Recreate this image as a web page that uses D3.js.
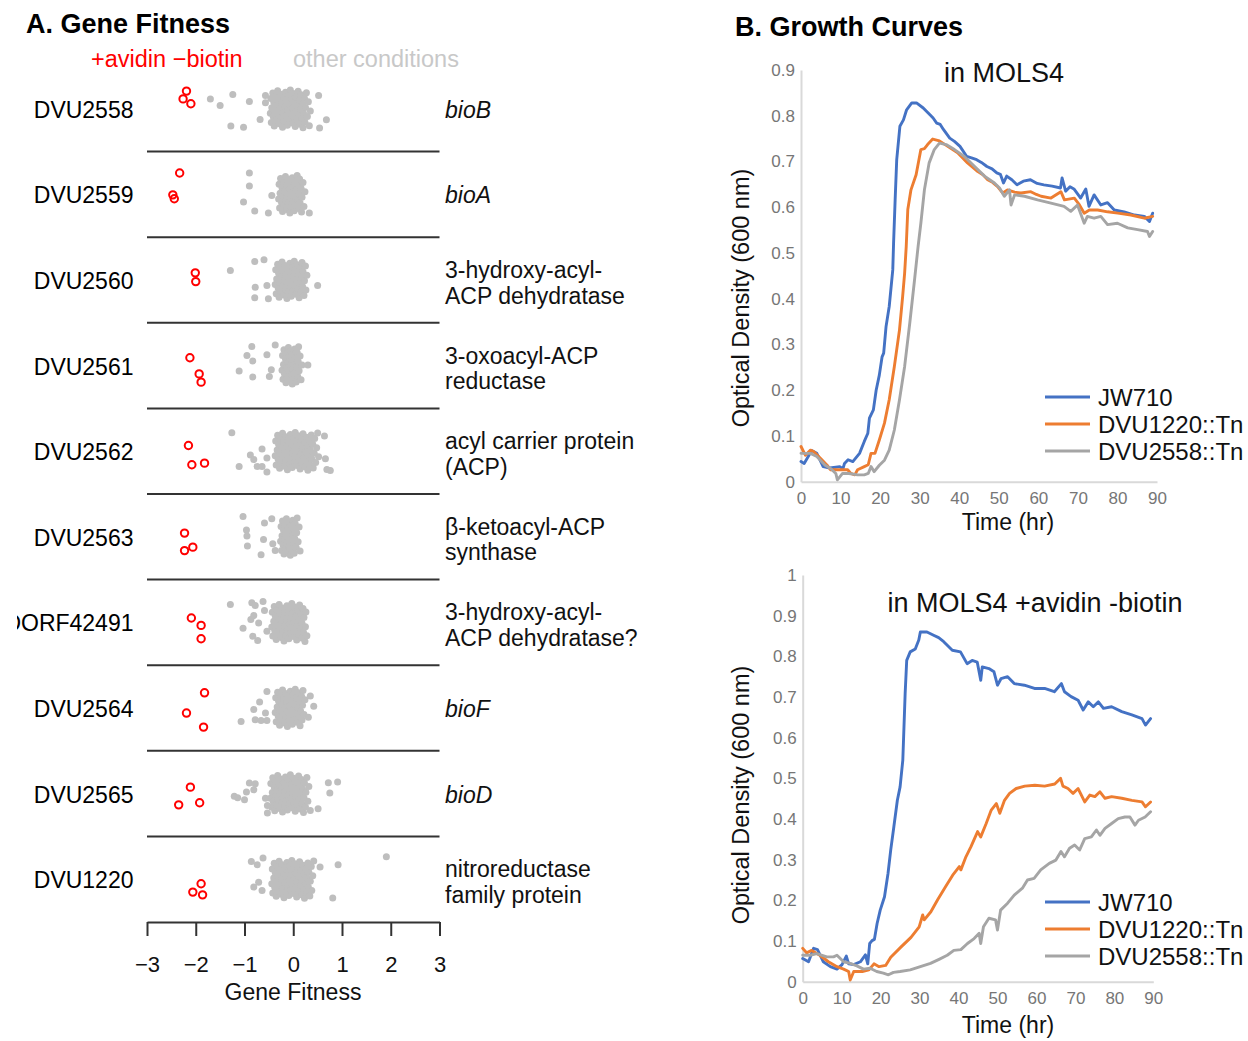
<!DOCTYPE html>
<html>
<head>
<meta charset="utf-8">
<script src="https://cdn.jsdelivr.net/npm/d3@7"></script>
<style>
  body { margin: 0; background: #fff; }
  svg  { display: block; font-family: "Liberation Sans", Arial, Helvetica, sans-serif; }
</style>
</head>
<body>
<svg id="chart" width="1248" height="1041"></svg>
<script>
// ── Panel A data: gene fitness strip chart ───────────────────────────────────
const genes = ["DVU2558", "DVU2559", "DVU2560", "DVU2561", "DVU2562",
               "DVU2563", "DORF42491", "DVU2564", "DVU2565", "DVU1220"];

const geneDesc = [
  ["bioB"], ["bioA"],
  ["3-hydroxy-acyl-", "ACP dehydratase"],
  ["3-oxoacyl-ACP", "reductase"],
  ["acyl carrier protein", "(ACP)"],
  ["β-ketoacyl-ACP", "synthase"],
  ["3-hydroxy-acyl-", "ACP dehydratase?"],
  ["bioF"], ["bioD"],
  ["nitroreductase", "family protein"],
];

const fitTicks = [-3, -2, -1, 0, 1, 2, 3];

// fitness in "+avidin −biotin" experiments: [fitness, jitter]
const avidinFit = [
  [[-2.19, -0.77], [-2.26, -0.43], [-2.10, -0.22]],
  [[-2.33, -0.93], [-2.47, 0.02], [-2.44, 0.19]],
  [[-2.01, -0.31], [-2.00, 0.07]],
  [[-2.12, -0.34], [-1.93, 0.36], [-1.89, 0.72]],
  [[-2.15, -0.25], [-2.08, 0.59], [-1.82, 0.52]],
  [[-2.23, -0.16], [-2.23, 0.60], [-2.06, 0.45]],
  [[-2.09, -0.19], [-1.89, 0.13], [-1.89, 0.71]],
  [[-1.82, -0.66], [-2.19, 0.22], [-1.84, 0.83]],
  [[-2.11, -0.28], [-2.35, 0.49], [-1.92, 0.40]],
  [[-1.89, 0.20], [-2.06, 0.56], [-1.86, 0.68]],
];

// other conditions, values away from the main cloud: [fitness, jitter]
const otherOutliers = [
  [[-1.70,-0.43],[-1.50,-0.14],[-1.24,-0.62],[-0.90,-0.32],[-1.28,0.75],[-1.02,0.80],[-0.68,0.47],[-0.57,-0.26],[-0.57,-0.58],[0.52,-0.58],[0.68,0.48],[0.54,0.84]],
  [[-0.90,-0.93],[-0.90,-0.36],[-1.02,0.33],[-0.79,0.72],[-0.44,0.05],[-0.51,0.81],[0.33,0.81]],
  [[-1.29,-0.41],[-0.79,-0.80],[-0.60,-0.88],[-0.78,0.31],[-0.79,0.77],[-0.54,0.24],[-0.51,0.82],[0.50,0.24]],
  [[-0.85,-0.83],[-0.95,-0.44],[-0.83,-0.20],[-1.11,0.24],[-0.83,0.50],[-0.54,-0.47],[-0.45,0.18],[-0.49,0.47],[-0.37,-0.90],[0.30,-0.03]],
  [[0.64,-0.66],[0.66,0.33],[0.69,0.80],[0.76,0.84],[-1.26,-0.80],[-0.88,0.16],[-0.81,0.36],[-1.11,0.66],[-0.74,0.66],[-0.64,0.66],[-0.54,0.30],[-0.64,-0.10],[-0.54,0.90]],
  [[-1.03,-0.88],[-0.59,-0.60],[-0.96,-0.30],[-0.95,-0.03],[-0.61,0.12],[-0.94,0.40],[-0.42,0.30],[-0.66,0.78],[-0.37,0.60],[-0.44,-0.78]],
  [[-1.29,-0.78],[-0.85,-0.85],[-0.78,-0.73],[-0.62,-0.91],[-0.87,-0.13],[-0.81,-0.30],[-0.71,0.03],[-1.03,0.25],[-0.54,0.38],[-0.83,0.60],[-0.73,0.79],[-0.59,-0.52]],
  [[-0.54,-0.72],[-0.69,-0.26],[-0.81,0.06],[-0.57,0.22],[-1.07,0.59],[-0.78,0.51],[-0.66,0.54],[-0.54,0.54],[0.35,-0.52],[0.42,-0.08],[0.31,0.40]],
  [[0.72,-0.47],[0.91,-0.50],[0.75,-0.03],[0.51,0.66],[-0.90,-0.46],[-0.78,-0.43],[-0.96,-0.07],[-0.81,-0.17],[-1.21,0.11],[-1.14,0.18],[-1.00,0.27],[-0.57,0.20],[-0.53,0.52],[-0.53,0.84]],
  [[-0.86,-0.77],[-0.74,-0.63],[-0.62,-0.92],[-0.81,0.34],[-0.71,0.13],[-0.64,0.49],[0.55,-0.53],[0.92,-0.63],[0.81,0.82],[1.91,-0.98]],
];

// other conditions, the dense cloud near zero (fitness only, jittered when drawn)
const otherCore = [
  [-0.47,-0.46,-0.45,-0.44,-0.42,-0.41,-0.40,-0.39,-0.37,-0.36,-0.35,-0.34,-0.32,-0.31,-0.30,-0.29,-0.27,-0.26,-0.25,-0.24,-0.22,-0.21,-0.20,-0.19,-0.17,-0.16,-0.15,-0.14,-0.12,-0.11,-0.10,-0.09,-0.07,-0.06,-0.05,-0.04,-0.02,-0.01,0.00,0.01,0.03,0.04,0.05,0.06,0.08,0.09,0.10,0.11,0.13,0.14,0.15,0.16,0.18,0.19,0.20,0.21,0.23,0.24,0.25,0.27,0.29,0.31,0.33,0.35],
  [-0.30,-0.29,-0.28,-0.27,-0.26,-0.24,-0.23,-0.22,-0.21,-0.20,-0.19,-0.18,-0.16,-0.15,-0.14,-0.13,-0.12,-0.11,-0.10,-0.08,-0.07,-0.06,-0.05,-0.04,-0.03,-0.02,0.00,0.01,0.02,0.03,0.04,0.05,0.06,0.08,0.09,0.10,0.11,0.12,0.13,0.14,0.16,0.17,0.18,0.20,0.22,0.24],
  [-0.37,-0.36,-0.35,-0.34,-0.32,-0.31,-0.30,-0.29,-0.28,-0.27,-0.25,-0.24,-0.23,-0.22,-0.21,-0.19,-0.18,-0.17,-0.16,-0.15,-0.13,-0.12,-0.11,-0.10,-0.09,-0.07,-0.06,-0.05,-0.04,-0.03,-0.01,0.00,0.01,0.02,0.03,0.05,0.06,0.07,0.08,0.09,0.11,0.12,0.13,0.14,0.15,0.17,0.18,0.19,0.20,0.22,0.23,0.25,0.26,0.28],
  [-0.23,-0.22,-0.21,-0.20,-0.19,-0.18,-0.16,-0.15,-0.14,-0.13,-0.12,-0.11,-0.10,-0.09,-0.08,-0.07,-0.06,-0.05,-0.04,-0.03,-0.02,-0.01,0.00,0.01,0.02,0.03,0.04,0.05,0.06,0.07,0.08,0.09,0.10,0.11,0.12,0.14,0.16,0.18],
  [-0.37,-0.36,-0.35,-0.33,-0.32,-0.31,-0.30,-0.28,-0.27,-0.26,-0.25,-0.23,-0.22,-0.21,-0.20,-0.18,-0.17,-0.16,-0.15,-0.13,-0.12,-0.11,-0.10,-0.08,-0.07,-0.06,-0.05,-0.03,-0.02,-0.01,0.00,0.02,0.03,0.04,0.05,0.07,0.08,0.09,0.10,0.12,0.13,0.14,0.15,0.17,0.18,0.19,0.20,0.22,0.23,0.24,0.25,0.27,0.28,0.29,0.30,0.32,0.33,0.34,0.35,0.37,0.38,0.40,0.41,0.43,0.44,0.46,0.48,0.50,0.52],
  [-0.26,-0.25,-0.24,-0.23,-0.22,-0.21,-0.20,-0.19,-0.18,-0.17,-0.16,-0.15,-0.14,-0.13,-0.12,-0.11,-0.10,-0.09,-0.08,-0.07,-0.06,-0.05,-0.04,-0.03,-0.02,-0.01,0.00,0.01,0.02,0.03,0.04,0.06,0.07,0.08,0.10,0.12,0.14],
  [-0.44,-0.43,-0.42,-0.40,-0.39,-0.38,-0.37,-0.35,-0.34,-0.33,-0.32,-0.30,-0.29,-0.28,-0.27,-0.25,-0.24,-0.23,-0.22,-0.20,-0.19,-0.18,-0.17,-0.15,-0.14,-0.13,-0.12,-0.10,-0.09,-0.08,-0.07,-0.05,-0.04,-0.03,-0.02,0.00,0.01,0.02,0.03,0.05,0.06,0.07,0.08,0.10,0.11,0.12,0.13,0.15,0.16,0.17,0.18,0.20,0.21,0.22,0.24,0.25,0.26,0.28],
  [-0.37,-0.36,-0.35,-0.33,-0.32,-0.31,-0.30,-0.28,-0.27,-0.26,-0.25,-0.23,-0.22,-0.21,-0.20,-0.18,-0.17,-0.16,-0.15,-0.13,-0.12,-0.11,-0.10,-0.08,-0.07,-0.06,-0.05,-0.03,-0.02,-0.01,0.00,0.02,0.03,0.04,0.05,0.07,0.08,0.09,0.10,0.12,0.13,0.14,0.15,0.17,0.18,0.19,0.20,0.22,0.24],
  [-0.47,-0.46,-0.44,-0.43,-0.42,-0.41,-0.39,-0.38,-0.37,-0.36,-0.34,-0.33,-0.32,-0.31,-0.29,-0.28,-0.27,-0.26,-0.24,-0.23,-0.22,-0.21,-0.19,-0.18,-0.17,-0.16,-0.14,-0.13,-0.12,-0.11,-0.09,-0.08,-0.07,-0.06,-0.04,-0.03,-0.02,-0.01,0.01,0.02,0.03,0.04,0.06,0.07,0.08,0.09,0.11,0.12,0.13,0.14,0.16,0.17,0.18,0.19,0.21,0.22,0.23,0.25,0.26,0.28,0.30,0.32,0.35],
  [-0.44,-0.43,-0.42,-0.40,-0.39,-0.38,-0.37,-0.35,-0.34,-0.33,-0.32,-0.30,-0.29,-0.28,-0.27,-0.25,-0.24,-0.23,-0.22,-0.20,-0.19,-0.18,-0.17,-0.15,-0.14,-0.13,-0.12,-0.10,-0.09,-0.08,-0.07,-0.05,-0.04,-0.03,-0.02,0.00,0.01,0.02,0.03,0.05,0.06,0.07,0.08,0.10,0.11,0.12,0.13,0.15,0.16,0.17,0.18,0.20,0.21,0.22,0.23,0.25,0.26,0.27,0.28,0.30,0.31,0.32,0.34,0.35,0.37,0.38,0.40,0.42],
];

// ── Panel B data: growth curves, [time (hr), OD600] ──────────────────────────
const strains = ["JW710", "DVU1220::Tn", "DVU2558::Tn"];
const strainColors = ["#4472c4", "#ed7d31", "#a5a5a5"];
const timeTicks = [0, 10, 20, 30, 40, 50, 60, 70, 80, 90];
const odTicksTop = [0, 0.1, 0.2, 0.3, 0.4, 0.5, 0.6, 0.7, 0.8, 0.9];
const odTicksBottom = [0, 0.1, 0.2, 0.3, 0.4, 0.5, 0.6, 0.7, 0.8, 0.9, 1];

const mols4JW710 = [[0,0.044],[0.8,0.040],[2.7,0.068],[4,0.062],[5.6,0.033],[7.3,0.030],[9.8,0.033],[10.6,0.028],[11,0.040],[11.9,0.048],[13.1,0.044],[14.8,0.062],[16,0.088],[16.9,0.106],[17.3,0.139],[18.3,0.157],[19,0.20],[19.8,0.233],[20.5,0.273],[20.9,0.281],[21.5,0.339],[22.3,0.383],[23.2,0.463],[23.4,0.52],[23.8,0.616],[24.2,0.704],[25,0.777],[25.9,0.791],[26.7,0.813],[28,0.828],[29.2,0.828],[30.9,0.817],[32.6,0.802],[33.4,0.795],[34.3,0.784],[35.2,0.781],[36,0.770],[37.6,0.751],[38.8,0.744],[40.2,0.733],[41.9,0.711],[43.1,0.708],[44.4,0.704],[45.6,0.698],[47,0.689],[48.3,0.684],[49.5,0.675],[50.4,0.672],[51.2,0.653],[52,0.668],[53.3,0.660],[54.6,0.649],[56.2,0.657],[58,0.66],[59.7,0.652],[61.4,0.649],[63.5,0.646],[65.6,0.642],[66,0.664],[66.9,0.635],[68,0.645],[69,0.64],[70.7,0.62],[72,0.64],[72.8,0.602],[74.1,0.627],[75.8,0.605],[77.5,0.61],[79.2,0.594],[81.7,0.59],[84.3,0.583],[86.8,0.58],[88.1,0.569],[88.9,0.587]];
const mols4DVU1220 = [[0,0.077],[1.1,0.058],[2.4,0.069],[3.2,0.066],[4.9,0.051],[6.6,0.036],[7.5,0.026],[10,0.026],[11.8,0.026],[12.6,0.018],[13.6,0.015],[14.3,0.026],[16,0.033],[17,0.037],[17.7,0.062],[18.7,0.062],[19.8,0.091],[21.1,0.128],[22.3,0.179],[23.6,0.252],[24.9,0.332],[25.7,0.405],[26.2,0.456],[26.6,0.514],[27,0.595],[27.8,0.638],[29.1,0.671],[30.3,0.726],[31.2,0.728],[32,0.737],[33.3,0.749],[35,0.745],[37.1,0.733],[39.6,0.719],[42.1,0.697],[44.7,0.678],[46,0.671],[47.2,0.66],[48.5,0.654],[49.7,0.645],[51,0.631],[52.2,0.638],[54,0.633],[55.6,0.631],[58.1,0.634],[59.5,0.628],[60.7,0.624],[63.2,0.62],[65.7,0.634],[66.6,0.616],[69.1,0.62],[70.4,0.605],[71.6,0.587],[72.9,0.594],[75,0.594],[77.5,0.59],[80.1,0.587],[83.4,0.583],[86.8,0.576],[88.9,0.58]];
const mols4DVU2558 = [[0,0.062],[2.4,0.062],[4,0.055],[6.1,0.036],[7.5,0.029],[8.8,0.018],[9.2,0.004],[10.5,0.018],[12.1,0.018],[14.3,0.015],[16,0.015],[17,0.018],[17.7,0.033],[18.5,0.022],[19.8,0.036],[21.1,0.047],[22.3,0.069],[23.6,0.113],[24.9,0.179],[26.2,0.252],[27.5,0.347],[28.7,0.441],[29.6,0.514],[30.3,0.565],[31.2,0.638],[32.4,0.697],[33.7,0.726],[35,0.74],[36.7,0.737],[38.8,0.726],[41.3,0.711],[43.9,0.689],[46.4,0.668],[48.9,0.653],[50.2,0.642],[51.4,0.624],[52.7,0.638],[53.1,0.605],[54,0.627],[56.5,0.624],[59.8,0.616],[63.2,0.609],[66.5,0.602],[68.2,0.591],[69.9,0.605],[71.6,0.565],[72.4,0.58],[74.1,0.576],[75.8,0.58],[77.5,0.562],[80,0.565],[82.6,0.555],[85.1,0.551],[87.6,0.547],[88.1,0.536],[88.9,0.547]];

const avidinJW710 = [[0,0.057],[1.5,0.049],[2.8,0.082],[3.8,0.079],[5.3,0.049],[7.1,0.037],[8.8,0.031],[10.1,0.042],[11.2,0.063],[11.8,0.044],[13.1,0.042],[14.8,0.049],[16.1,0.066],[16.7,0.044],[17.2,0.094],[17.8,0.101],[18.4,0.104],[19.1,0.143],[19.9,0.176],[21,0.209],[21.9,0.266],[22.6,0.324],[23.4,0.381],[24.3,0.446],[25,0.479],[25.7,0.545],[26.3,0.709],[26.7,0.79],[27.6,0.811],[28.9,0.818],[29.8,0.84],[30.2,0.86],[31.9,0.86],[33.6,0.852],[34.9,0.846],[36.2,0.836],[38.4,0.815],[40.5,0.811],[42.2,0.782],[43.5,0.79],[44.8,0.786],[45.7,0.741],[46.1,0.774],[47.8,0.77],[49.1,0.762],[50,0.729],[50.9,0.745],[52.6,0.75],[54.3,0.733],[56.9,0.729],[59.5,0.721],[62.1,0.721],[64.6,0.713],[66.4,0.733],[67.2,0.713],[68.9,0.701],[70.7,0.692],[72,0.668],[73.3,0.688],[74.6,0.676],[75.9,0.688],[77.2,0.672],[79.3,0.676],[81.9,0.664],[84.5,0.656],[87.1,0.647],[88,0.631],[89.3,0.647]];
const avidinDVU1220 = [[0,0.082],[1,0.071],[2.3,0.077],[4.4,0.065],[6.6,0.049],[8.8,0.037],[10.5,0.031],[11.8,0.025],[12.2,0.004],[13.1,0.025],[15.3,0.025],[17,0.029],[18.3,0.044],[19.6,0.037],[21.3,0.04],[22.6,0.06],[25.2,0.085],[27.8,0.109],[29.9,0.135],[30.8,0.164],[31.2,0.152],[32.9,0.172],[34.6,0.201],[36.7,0.234],[38.5,0.262],[40.2,0.283],[40.6,0.275],[41.9,0.307],[43.2,0.332],[44.9,0.369],[45.7,0.356],[47.1,0.389],[48.4,0.422],[49.7,0.438],[50.6,0.414],[51.8,0.446],[53.1,0.463],[54.8,0.475],[57,0.481],[59.6,0.483],[62.1,0.481],[64.7,0.486],[66.2,0.50],[66.8,0.481],[68.1,0.475],[69.4,0.463],[70.7,0.475],[72.4,0.442],[73.7,0.459],[75,0.455],[76.3,0.467],[77.6,0.451],[79.3,0.455],[81.9,0.451],[84.5,0.446],[87.1,0.442],[88,0.43],[89.3,0.442]];
const avidinDVU2558 = [[0,0.065],[1.9,0.065],[3.6,0.069],[6.2,0.061],[7.9,0.061],[8.8,0.065],[10.5,0.049],[12.2,0.045],[13.9,0.039],[15.6,0.031],[17.3,0.033],[19,0.025],[20.7,0.021],[22,0.017],[23.3,0.023],[25,0.025],[27.6,0.029],[30.2,0.037],[32.8,0.045],[35,0.055],[37.1,0.065],[38.8,0.077],[40.6,0.079],[42.3,0.094],[44,0.106],[45.3,0.119],[45.7,0.094],[46.4,0.135],[47.8,0.156],[49.5,0.152],[50,0.127],[50.8,0.176],[52.6,0.193],[54.3,0.213],[56.4,0.23],[57.7,0.25],[59.4,0.254],[61.1,0.275],[63.3,0.291],[65,0.299],[66.3,0.32],[67.2,0.307],[68.5,0.328],[69.8,0.336],[71.1,0.324],[72.4,0.352],[74.1,0.356],[75.4,0.373],[76.3,0.36],[77.6,0.377],[79.3,0.389],[81,0.401],[82.7,0.405],[84,0.405],[85.3,0.385],[86.2,0.397],[87.9,0.405],[89.3,0.418]];

// ── Setup ────────────────────────────────────────────────────────────────────
const svg = d3.select("#chart");
const defs = svg.append("defs");

// the source figure is cropped on the left, one label is cut
defs.append("clipPath").attr("id", "clipA")
  .append("rect").attr("x", 17).attr("y", 0).attr("width", 700).attr("height", 1041);

const pA = svg.append("g").attr("clip-path", "url(#clipA)");

pA.append("text")
  .attr("x", 26).attr("y", 33)
  .attr("font-size", 27).attr("font-weight", "bold")
  .text("A. Gene Fitness");

pA.append("text")
  .attr("x", 91).attr("y", 67).attr("font-size", 23.5).attr("fill", "#ff0000")
  .text("+avidin \u2212biotin");
pA.append("text")
  .attr("x", 293).attr("y", 67).attr("font-size", 23.5).attr("fill", "#c8c8c8")
  .text("other conditions");

const fx   = d3.scaleLinear().domain([-3, 3]).range([147, 439.5]);
const rowY = d3.scaleBand().domain(genes).range([66, 922]);
const jit  = d3.scaleLinear().domain([-1, 1]).range([-23, 23]);
const PHI  = 0.6180339887;

genes.forEach((g, i) => {
  const top = rowY(g);
  const cy  = top + rowY.bandwidth() / 2;

  // gene id
  pA.append("text")
    .attr("x", 133.5).attr("y", cy + 9)
    .attr("text-anchor", "end").attr("font-size", 23)
    .text(g);

  // description
  const lines = geneDesc[i];
  const isSymbol = lines.length === 1 && /^bio[A-Z]$/.test(lines[0]);
  const desc = pA.append("text")
    .attr("font-size", 23).attr("fill", "#111")
    .attr("font-style", isSymbol ? "italic" : null);
  lines.forEach((ln, k) => {
    desc.append("tspan")
      .attr("x", 445)
      .attr("y", lines.length === 1 ? cy + 9 : cy - 2 + k * 25.5)
      .text(ln);
  });

  // separator under the row
  if (i < genes.length - 1) {
    pA.append("line")
      .attr("x1", fx(-3)).attr("x2", fx(3))
      .attr("y1", top + rowY.bandwidth()).attr("y2", top + rowY.bandwidth())
      .attr("stroke", "#333").attr("stroke-width", 2);
  }

  const rowG = pA.append("g").attr("transform", `translate(0,${cy})`);

  // dense cloud: sorted values, low-discrepancy vertical jitter
  const core = otherCore[i].slice().sort(d3.ascending);
  rowG.selectAll("circle.core")
    .data(core).enter().append("circle")
    .attr("class", "core")
    .attr("cx", d => fx(d))
    .attr("cy", (d, k) => jit((((k + 1) * PHI) % 1 * 2 - 1) * 0.84))
    .attr("r", 3.5)
    .attr("fill", "#bebebe");

  rowG.selectAll("circle.out")
    .data(otherOutliers[i]).enter().append("circle")
    .attr("class", "out")
    .attr("cx", d => fx(d[0]))
    .attr("cy", d => jit(d[1]))
    .attr("r", 3.5)
    .attr("fill", "#bebebe");

  rowG.selectAll("circle.avidin")
    .data(avidinFit[i]).enter().append("circle")
    .attr("class", "avidin")
    .attr("cx", d => fx(d[0]))
    .attr("cy", d => jit(d[1]))
    .attr("r", 3.7)
    .attr("fill", "none")
    .attr("stroke", "#ff0000")
    .attr("stroke-width", 2);
});

// fitness axis
const axA = pA.append("g")
  .attr("transform", "translate(0,922)")
  .call(d3.axisBottom(fx).tickValues(fitTicks).tickFormat(d3.format("d"))
    .tickSize(14).tickSizeOuter(0).tickPadding(20));
axA.select(".domain").attr("stroke", "#333").attr("stroke-width", 2);
axA.selectAll(".tick line").attr("stroke", "#333").attr("stroke-width", 2);
axA.selectAll(".tick text")
  .attr("font-size", 22).attr("fill", "#111")
  .attr("font-family", "Liberation Sans, Arial, sans-serif");

pA.append("text")
  .attr("x", 293).attr("y", 1000)
  .attr("text-anchor", "middle").attr("font-size", 23).attr("fill", "#111")
  .text("Gene Fitness");

// ── Panel B: growth curves ───────────────────────────────────────────────────
svg.append("text")
  .attr("x", 735).attr("y", 36)
  .attr("font-size", 27).attr("font-weight", "bold")
  .text("B. Growth Curves");

function drawGrowth(cfg) {
  const x = d3.scaleLinear().domain([0, 90]).range([cfg.left, cfg.right]);
  const y = d3.scaleLinear().domain([0, cfg.yMax]).range([cfg.bottom, cfg.top]);
  const g = svg.append("g");

  const ax = g.append("g")
    .attr("transform", `translate(0,${cfg.bottom})`)
    .call(d3.axisBottom(x).tickValues(timeTicks).tickSize(0).tickSizeOuter(0).tickPadding(10.5));
  const ay = g.append("g")
    .attr("transform", `translate(${cfg.left},0)`)
    .call(d3.axisLeft(y).tickValues(cfg.yTicks).tickSize(0).tickSizeOuter(0).tickPadding(6)
      .tickFormat(d3.format("~g")));

  [ax, ay].forEach(a => {
    a.select(".domain").attr("stroke", "#d9d9d9").attr("stroke-width", 2);
    a.selectAll(".tick text")
      .attr("font-size", 17).attr("fill", "#767676")
      .attr("font-family", "Liberation Sans, Arial, sans-serif");
  });

  const line = d3.line().x(d => x(d[0])).y(d => y(d[1]));
  cfg.series.forEach((s, k) => {
    g.append("path")
      .datum(s)
      .attr("d", line)
      .attr("fill", "none")
      .attr("stroke", strainColors[k])
      .attr("stroke-width", 2.9)
      .attr("stroke-linejoin", "round")
      .attr("stroke-linecap", "round");
  });

  g.append("text")
    .attr("x", cfg.titleX).attr("y", cfg.titleY)
    .attr("text-anchor", "middle").attr("font-size", 27).attr("fill", "#111")
    .text(cfg.title);

  g.append("text")
    .attr("x", 1008).attr("y", cfg.bottom + cfg.xLabelDy)
    .attr("text-anchor", "middle").attr("font-size", 23).attr("fill", "#111")
    .text("Time (hr)");

  g.append("text")
    .attr("transform", `translate(749,${cfg.yLabelY}) rotate(-90)`)
    .attr("text-anchor", "middle").attr("font-size", 23.5).attr("fill", "#111")
    .text("Optical Density (600 nm)");

  strains.forEach((name, k) => {
    const ly = cfg.legendY + k * 27;
    g.append("line")
      .attr("x1", 1045).attr("x2", 1090).attr("y1", ly).attr("y2", ly)
      .attr("stroke", strainColors[k]).attr("stroke-width", 2.9);
    g.append("text")
      .attr("x", 1098).attr("y", ly + 8.5)
      .attr("font-size", 24).attr("fill", "#111")
      .text(name);
  });
}

drawGrowth({
  left: 801, right: 1157, top: 70, bottom: 481.7, yMax: 0.9, yTicks: odTicksTop,
  series: [mols4JW710, mols4DVU1220, mols4DVU2558],
  title: "in MOLS4", titleX: 1004, titleY: 82,
  xLabelDy: 48, yLabelY: 298, legendY: 397,
});

drawGrowth({
  left: 802.7, right: 1153.3, top: 575, bottom: 981.7, yMax: 1, yTicks: odTicksBottom,
  series: [avidinJW710, avidinDVU1220, avidinDVU2558],
  title: "in MOLS4 +avidin -biotin", titleX: 1035, titleY: 612,
  xLabelDy: 51, yLabelY: 795, legendY: 902,
});
</script>
</body>
</html>
